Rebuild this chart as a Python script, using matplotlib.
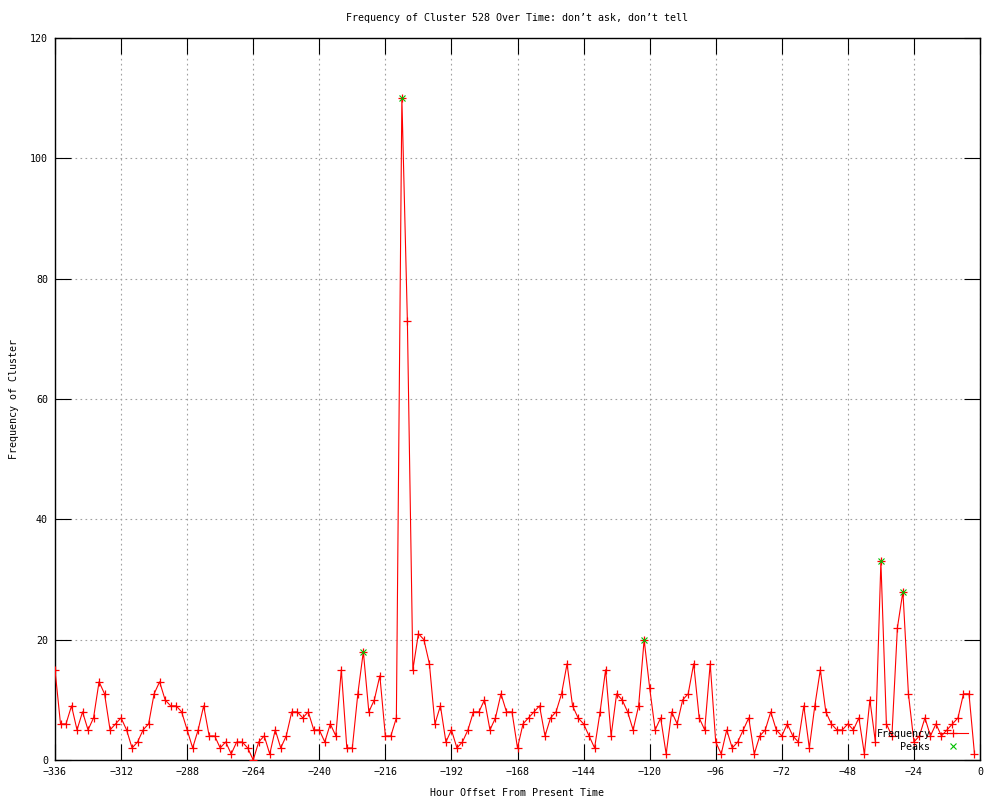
import matplotlib
matplotlib.use("Agg")
import matplotlib.pyplot as plt
from matplotlib.lines import Line2D
import numpy as np

# ---- data ----
start_hour = -336
step_hours = 2
frequency = [
    15, 6, 6, 9, 5, 8, 5, 7, 13, 11, 5, 6, 7, 5, 2, 3, 5, 6, 11, 13, 10, 9, 9, 8, 5, 2, 5, 9, 4,
    4, 2, 3, 1, 3, 3, 2, 0, 3, 4, 1, 5, 2, 4, 8, 8, 7, 8, 5, 5, 3, 6, 4, 15, 2, 2, 11, 18,
    8, 10, 14, 4, 4, 7, 110, 73, 15, 21, 20, 16, 6, 9, 3, 5, 2, 3, 5, 8, 8, 10, 5, 7, 11, 8, 8, 2, 6, 7,
    8, 9, 4, 7, 8, 11, 16, 9, 7, 6, 4, 2, 8, 15, 4, 11, 10, 8, 5, 9, 20, 12, 5, 7, 1, 8, 6, 10, 11, 16,
    7, 5, 16, 3, 1, 5, 2, 3, 5, 7, 1, 4, 5, 8, 5, 4, 6, 4, 3, 9, 2, 9, 15, 8, 6, 5, 5, 6, 5,
    7, 1, 10, 3, 33, 6, 4, 22, 28, 11, 3, 4, 7, 4, 6, 4, 5, 6, 7, 11, 11, 1,
]
hours = [start_hour + step_hours * i for i in range(len(frequency))]
peak_hours = [-224, -210, -122, -36, -28]
peak_values = [18, 110, 20, 33, 28]

x_ticks = list(range(-336, 1, 24))
y_ticks = list(range(0, 121, 20))

title = "Frequency of Cluster 528 Over Time: don\u2019t ask, don\u2019t tell"
xlabel = "Hour Offset From Present Time"
ylabel = "Frequency of Cluster"

# ---- style ----
FONT = "DejaVu Sans Mono"
FS = 7.2
RED = "#ff0000"
GREEN = "#00c000"

fig = plt.figure(figsize=(10, 8), dpi=100)
ax = fig.add_axes([0.055, 0.05, 0.925, 0.9025])

ax.plot(hours, frequency, color=RED, lw=0.8, marker="+", ms=5.5, mew=0.9, zorder=3)
ax.plot(peak_hours, peak_values, ls="none", color=GREEN, marker="x", ms=5, mew=0.8, zorder=4)

ax.set_xlim(-336, 0)
ax.set_ylim(0, 120)
ax.set_xticks(x_ticks)
ax.set_yticks(y_ticks)
ax.tick_params(direction="in", length=11.5, width=0.8, top=True, right=True,
               labelsize=FS, pad=5, colors="black")
for lab in ax.get_xticklabels() + ax.get_yticklabels():
    lab.set_family(FONT)
ax.grid(True, color="#a0a0a0", ls=(0, (1.5, 3)), lw=0.8, zorder=1)
for s in ax.spines.values():
    s.set_linewidth(1.0)
    s.set_color("black")

fig.text(0.517, 1 - 18 / 800, title, ha="center", va="center", family=FONT, fontsize=FS)
fig.text(0.517, 1 - 793 / 800, xlabel, ha="center", va="center", family=FONT, fontsize=FS)
fig.text(0.014, 1 - 399 / 800, ylabel, ha="center", va="center", rotation=90, family=FONT, fontsize=FS)

handles = [
    Line2D([], [], color=RED, lw=0.8, marker="+", ms=5.5, mew=0.9),
    Line2D([], [], color=GREEN, ls="none", marker="x", ms=5, mew=0.8),
]
leg = ax.legend(handles, ["Frequency", "Peaks"], loc="lower right",
                bbox_to_anchor=(0.994, 0.003), frameon=False, markerfirst=False,
                handlelength=3.0, handletextpad=0.8, labelspacing=0.3,
                borderaxespad=0.2, numpoints=1,
                prop={"family": FONT, "size": FS})

fig.savefig("out.png", dpi=100)
